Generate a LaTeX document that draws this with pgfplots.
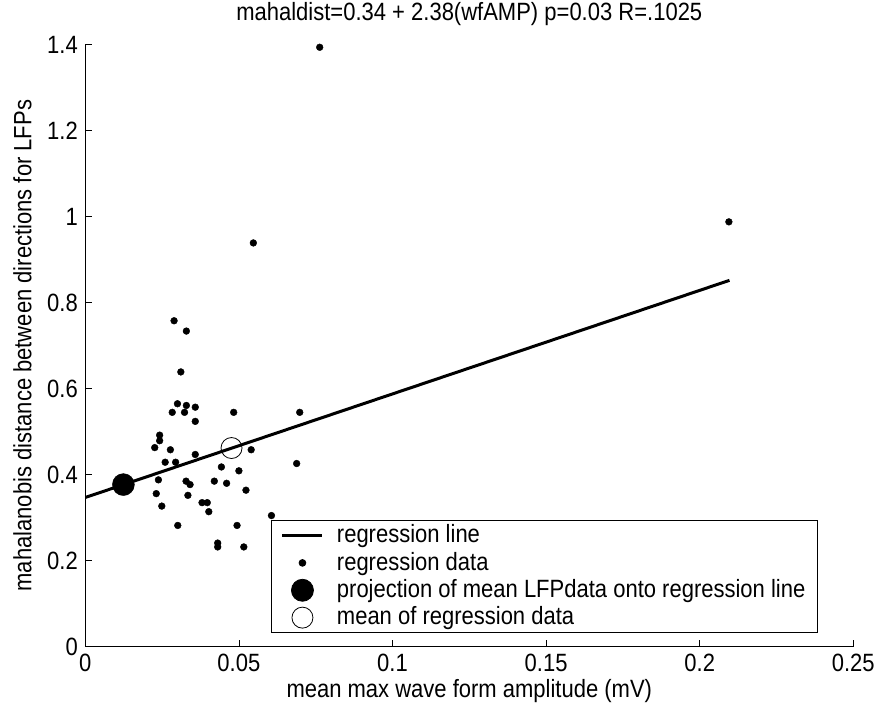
\documentclass[border=0pt]{standalone}
\usepackage{fontspec}
\setmainfont{Liberation Sans}[FakeStretch=0.88]
\usepackage{pgfplots}
\pgfplotsset{compat=1.18}
\pgfplotstableread{
x y
0.0289 0.758
0.0329 0.734
0.0311 0.639
0.0300 0.565
0.0329 0.561
0.0358 0.557
0.0283 0.545
0.0323 0.545
0.0358 0.524
0.0483 0.545
0.0698 0.545
0.0242 0.492
0.0242 0.479
0.0226 0.463
0.0277 0.458
0.0358 0.447
0.0540 0.458
0.0260 0.429
0.0294 0.429
0.0443 0.418
0.0500 0.409
0.0688 0.426
0.0238 0.388
0.0328 0.385
0.0341 0.377
0.0420 0.385
0.0460 0.380
0.0231 0.356
0.0334 0.352
0.0523 0.364
0.0249 0.327
0.0380 0.335
0.0397 0.335
0.0402 0.314
0.0301 0.282
0.0494 0.282
0.0431 0.241
0.0431 0.232
0.0516 0.232
0.0606 0.305
0.0547 0.939
0.0763 1.394
0.2095 0.988
}\regdata
\begin{document}
\fontsize{25}{29}\selectfont
\begin{tikzpicture}
\begin{axis}[
 at={(0pt,0pt)}, anchor=south west,
 scale only axis, width=768pt, height=602pt,
 xmin=0, xmax=0.25, ymin=0, ymax=1.4,
 axis x line*=bottom, axis y line*=left,
 axis line style={line width=0.8pt, -, black},
 tick align=inside, major tick length=7pt,
 tick style={line width=0.8pt, black},
 xtick={0,0.05,0.1,0.15,0.2,0.25}, xticklabels={0,0.05,0.1,0.15,0.2,0.25},
 ytick={0,0.2,0.4,0.6,0.8,1,1.2,1.4}, yticklabels={0,0.2,0.4,0.6,0.8,1,1.2,1.4},
 ticklabel style={font=\fontsize{25}{29}\selectfont},
 xticklabel style={yshift=1pt},
 yticklabel style={xshift=1pt},
 title={mahaldist=0.34 + 2.38(wfAMP) p=0.03 R=.1025},
 title style={at={(axis description cs:0.5,1)}, anchor=base, yshift=18pt, font=\fontsize{25}{29}\selectfont},
 xlabel={mean max wave form amplitude (mV)},
 xlabel style={at={(axis description cs:0.5,0)}, anchor=base, yshift=-51pt, font=\fontsize{25}{29}\selectfont},
 ylabel={mahalanobis distance between directions for LFPs},
 ylabel style={at={(axis description cs:-0.0703,0.5)}, anchor=base, rotate=0, font=\fontsize{25}{29}\selectfont},
 legend style={at={(0.9537,0.0228)}, anchor=south east, draw=black, line width=0.8pt,
   font=\fontsize{25}{29}\selectfont, inner xsep=10pt, inner ysep=2pt, row sep=1.5pt, column sep=11pt},
 legend cell align=left,
 legend image code/.code={\draw[mark repeat=2,mark phase=2,#1] plot coordinates {(0pt,0pt) (20pt,0pt) (40pt,0pt)};},
]
\addplot[black, line width=3pt] coordinates {(0,0.347) (0.2097,0.852)};
\addlegendentry{regression line}
\addplot[only marks, mark=*, mark size=3.4pt, black] table {\regdata};
\addlegendentry{regression data}
\addplot[only marks, mark=*, mark size=11pt, black] coordinates {(0.0124,0.377)};
\addlegendentry{projection of mean LFPdata onto regression line}
\addplot[only marks, mark=o, mark size=10.5pt, black, line width=0.8pt] coordinates {(0.0476,0.462)};
\addlegendentry{mean of regression data}
\end{axis}
\pgfresetboundingbox
\path (-85.3pt,-62.3pt) rectangle (790.7pt,646.7pt);
\end{tikzpicture}
\end{document}
